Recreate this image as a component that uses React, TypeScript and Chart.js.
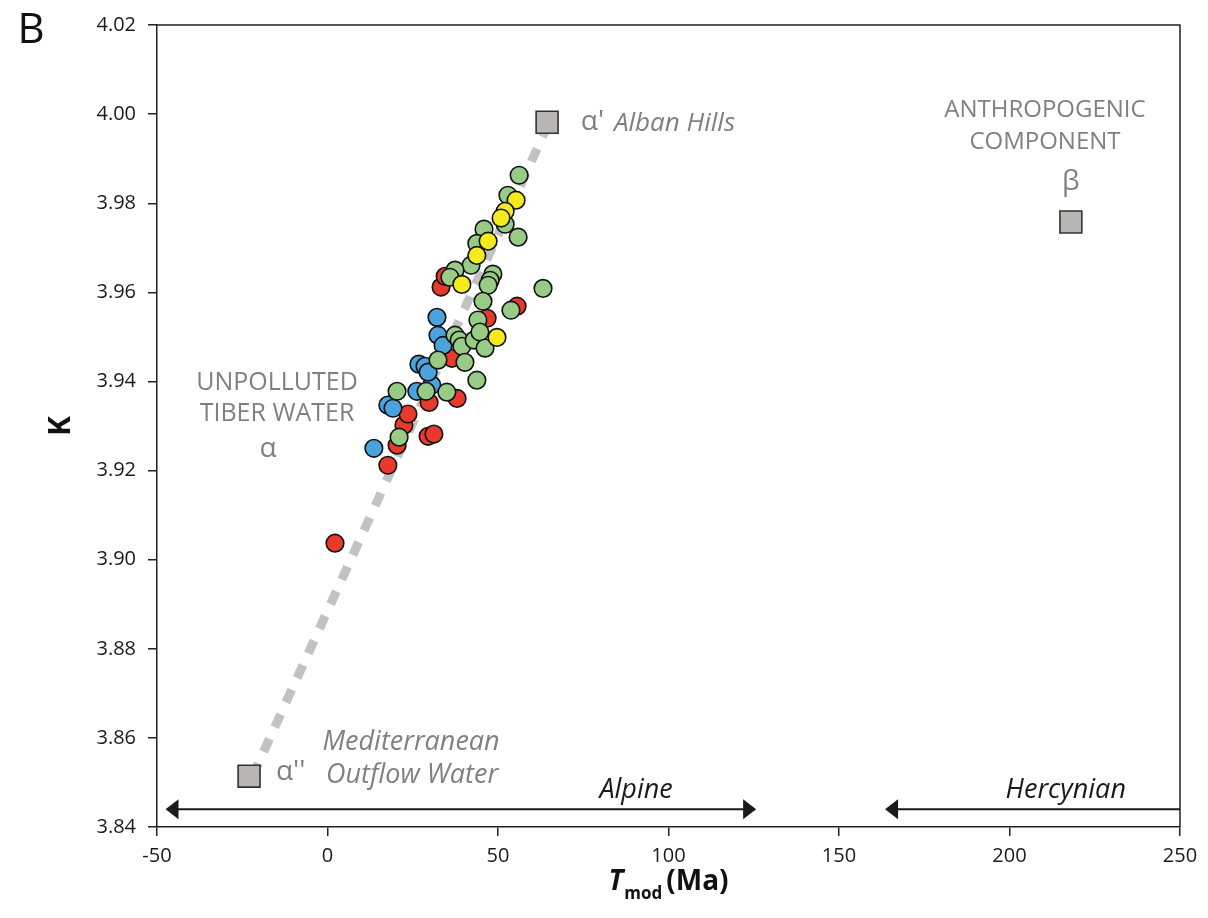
import React, { useEffect, useRef } from "react";
import { Chart, registerables } from "chart.js";

Chart.register(...registerables);

// ---------- data ----------
const xTicks = [-50, 0, 50, 100, 150, 200, 250];
const yTicks = [3.84, 3.86, 3.88, 3.9, 3.92, 3.94, 3.96, 3.98, 4.0, 4.02];

const redX = [2.2, 17.7, 20.4, 22.4, 23.6, 29.5, 31.2, 29.8, 38.0, 36.5, 46.8, 55.6, 33.3, 34.5];
const redY = [3.9037, 3.9212, 3.9257, 3.9302, 3.9327, 3.9277, 3.9282, 3.9353, 3.9362, 3.9452, 3.9542, 3.9569, 3.9612, 3.9636];

const blueX = [13.6, 17.7, 19.2, 26.2, 30.6, 26.8, 28.6, 29.5, 32.4, 33.9, 32.1];
const blueY = [3.925, 3.9347, 3.934, 3.9378, 3.9392, 3.9439, 3.9434, 3.9421, 3.9504, 3.9481, 3.9544];

const greenX = [56.2, 52.9, 52.1, 55.9, 45.9, 43.8, 42.1, 37.4, 35.9, 48.5, 47.7, 47.1, 63.2, 45.6, 53.8, 44.1, 37.4, 38.6, 39.4, 43.0, 44.7, 46.2, 32.4, 40.3, 43.8, 20.4, 28.9, 35.0, 21.0];
const greenY = [3.9863, 3.9818, 3.9753, 3.9724, 3.9742, 3.971, 3.9661, 3.965, 3.9634, 3.9641, 3.9627, 3.9616, 3.9609, 3.958, 3.956, 3.9538, 3.9504, 3.9493, 3.9479, 3.9493, 3.9511, 3.9475, 3.9448, 3.9443, 3.9403, 3.9378, 3.9378, 3.9376, 3.9275];

const yellowX = [55.3, 52.1, 50.9, 47.1, 43.8, 39.4, 49.7];
const yellowY = [3.9807, 3.9782, 3.9767, 3.9715, 3.9683, 3.9618, 3.9499];

// end-members: alpha'' (Mediterranean), alpha' (Alban Hills), beta (anthropogenic)
const endX = [-23.0, 64.4, 218.0];
const endY = [3.8514, 3.9982, 3.9758];

// mixing line alpha'' -> alpha'
const mixX = [-22.0, 65.0];
const mixY = [3.8514, 3.9982];

// orogeny age ranges (Ma)
const alpineRange = [-47.5, 125.7];
const hercynianRange = [163.5, 250];
const rangeLevelK = 3.844;

const FONT = "'Open Sans', 'Noto Sans', sans-serif";

const pts = (xs: number[], ys: number[]) => xs.map((x, i) => ({ x, y: ys[i] }));

const decorPlugin = {
  id: "decor",
  afterDraw(chart: any) {
    const { ctx, chartArea, scales } = chart;
    const xs = scales.x;
    const ys = scales.y;
    const X = (v: number) => xs.getPixelForValue(v);
    const Y = (v: number) => ys.getPixelForValue(v);
    ctx.save();

    // frame: top and right
    ctx.strokeStyle = "#222";
    ctx.lineWidth = 1.5;
    ctx.beginPath();
    ctx.moveTo(chartArea.left, chartArea.top);
    ctx.lineTo(chartArea.right, chartArea.top);
    ctx.lineTo(chartArea.right, chartArea.bottom);
    ctx.stroke();

    // arrows
    const ay = Y(rangeLevelK);
    const head = (tip: number, dir: number) => {
      ctx.beginPath();
      ctx.moveTo(tip, ay);
      ctx.lineTo(tip - dir * 13, ay - 10);
      ctx.lineTo(tip - dir * 13, ay + 10);
      ctx.closePath();
      ctx.fill();
    };
    ctx.fillStyle = "#1a1a1a";
    ctx.strokeStyle = "#1a1a1a";
    ctx.lineWidth = 2;
    ctx.beginPath();
    ctx.moveTo(X(alpineRange[0]) + 5, ay);
    ctx.lineTo(X(alpineRange[1]) - 5, ay);
    ctx.stroke();
    head(X(alpineRange[0]), -1);
    head(X(alpineRange[1]), 1);
    ctx.beginPath();
    ctx.moveTo(X(hercynianRange[0]) + 5, ay);
    ctx.lineTo(X(hercynianRange[1]), ay);
    ctx.stroke();
    head(X(hercynianRange[0]), -1);

    ctx.textBaseline = "middle";
    ctx.font = `italic 27px ${FONT}`;
    ctx.textAlign = "center";
    ctx.fillText("Alpine", X(90.5), Y(3.8483));
    ctx.fillText("Hercynian", X(216.5), Y(3.8483));

    // grey annotations
    ctx.fillStyle = "#808080";
    ctx.textAlign = "left";
    ctx.font = `28px ${FONT}`;
    ctx.fillText("α'", X(74.3), Y(3.9982));
    ctx.font = `italic 26px ${FONT}`;
    ctx.fillText("Alban Hills", X(84.0), Y(3.998));

    ctx.textAlign = "center";
    ctx.font = `24px ${FONT}`;
    ctx.fillText("ANTHROPOGENIC", X(210.4), Y(4.0009));
    ctx.fillText("COMPONENT", X(210.4), Y(3.9937));
    ctx.font = `28px ${FONT}`;
    ctx.fillText("β", X(218.0), Y(3.9847));

    ctx.font = `25px ${FONT}`;
    ctx.fillText("UNPOLLUTED", X(-14.8), Y(3.9398));
    ctx.fillText("TIBER WATER", X(-14.8), Y(3.9327));
    ctx.font = `28px ${FONT}`;
    ctx.fillText("α", X(-17.4), Y(3.9248));

    ctx.textAlign = "left";
    ctx.fillText("α''", X(-15.1), Y(3.8523));
    ctx.textAlign = "center";
    ctx.font = `italic 27px ${FONT}`;
    ctx.fillText("Mediterranean", X(24.5), Y(3.859));
    ctx.fillText("Outflow Water", X(24.8), Y(3.8516));

    // panel letter
    ctx.fillStyle = "#111";
    ctx.textAlign = "center";
    ctx.font = `42px ${FONT}`;
    ctx.fillText("B", 23, 23);

    // y title
    ctx.save();
    ctx.translate(53, (chartArea.top + chartArea.bottom) / 2);
    ctx.rotate(-Math.PI / 2);
    ctx.font = `bold 30px ${FONT}`;
    ctx.textAlign = "center";
    ctx.fillText("K", 0, 0);
    ctx.restore();

    // x title: T_mod (Ma)
    const big = `bold 28px ${FONT}`;
    const bigIt = `bold italic 28px ${FONT}`;
    const sub = `bold 17px ${FONT}`;
    ctx.font = bigIt;
    const wT = ctx.measureText("T").width;
    ctx.font = sub;
    const wS = ctx.measureText("mod").width;
    ctx.font = big;
    const wM = ctx.measureText("(Ma)").width;
    const gap = 4;
    const total = wT + 1 + wS + gap + wM;
    let sx = (chartArea.left + chartArea.right) / 2 - total / 2;
    const ty = 874;
    ctx.textAlign = "left";
    ctx.font = bigIt;
    ctx.fillText("T", sx, ty);
    sx += wT + 1;
    ctx.font = sub;
    ctx.fillText("mod", sx, ty + 12);
    sx += wS + gap;
    ctx.font = big;
    ctx.fillText("(Ma)", sx, ty);

    ctx.restore();
  },
};

export default function App() {
  const ref = useRef<HTMLCanvasElement>(null);
  useEffect(() => {
    const circle = (color: string, xs: number[], ys: number[], order: number) => ({
      type: "scatter" as const,
      data: pts(xs, ys),
      backgroundColor: color,
      borderColor: "#111",
      borderWidth: 1.6,
      pointRadius: 8.8,
      pointHoverRadius: 8.8,
      order,
    });
    const chart = new Chart(ref.current!, {
      type: "scatter",
      data: {
        datasets: [
          {
            type: "line" as const,
            data: pts(mixX, mixY),
            borderColor: "#c2c2c2",
            borderWidth: 9,
            borderDash: [14, 13],
            borderCapStyle: "butt",
            pointRadius: 0,
            fill: false,
            order: 10,
          } as any,
          circle("#e8392a", redX, redY, 5),
          circle("#4aa3df", blueX, blueY, 4),
          circle("#98cc86", greenX, greenY, 3),
          circle("#f5ea1e", yellowX, yellowY, 2),
          {
            type: "scatter" as const,
            data: pts(endX, endY),
            pointStyle: "rect",
            backgroundColor: "#bab5b5",
            borderColor: "#333",
            borderWidth: 1.6,
            pointRadius: 15.5,
            pointHoverRadius: 15.5,
            order: 1,
          } as any,
        ],
      },
      options: {
        animation: false,
        responsive: false,
        events: [],
        layout: { padding: { top: 17, right: 20, left: 0, bottom: 0 } },
        plugins: { legend: { display: false }, tooltip: { enabled: false } },
        scales: {
          x: {
            type: "linear",
            min: -50,
            max: 250,
            afterBuildTicks: (s: any) => {
              s.ticks = xTicks.map((v) => ({ value: v }));
            },
            afterFit: (s: any) => {
              s.height = 83;
              s.paddingLeft = 0;
              s.paddingRight = 0;
              s.paddingTop = 0;
              s.paddingBottom = 0;
            },
            grid: { display: true, drawOnChartArea: false, drawTicks: true, tickLength: 9, color: "#222", lineWidth: 1.5 },
            border: { display: true, color: "#222", width: 1.5 },
            ticks: {
              font: { family: FONT, size: 20 },
              color: "#1a1a1a",
              padding: 8,
              maxRotation: 0,
              autoSkip: false,
              callback: (v: any) => String(v),
            },
          },
          y: {
            type: "linear",
            min: 3.84,
            max: 4.02,
            afterBuildTicks: (s: any) => {
              s.ticks = yTicks.map((v) => ({ value: v }));
            },
            afterFit: (s: any) => {
              s.width = 149;
              s.paddingLeft = 0;
              s.paddingRight = 0;
              s.paddingTop = 0;
              s.paddingBottom = 0;
            },
            grid: { display: true, drawOnChartArea: false, drawTicks: true, tickLength: 9, color: "#222", lineWidth: 1.5 },
            border: { display: true, color: "#222", width: 1.5 },
            ticks: {
              font: { family: FONT, size: 20 },
              color: "#1a1a1a",
              padding: 12,
              autoSkip: false,
              callback: (v: any) => Number(v).toFixed(2),
            },
          },
        },
      } as any,
      plugins: [decorPlugin],
    });
    return () => chart.destroy();
  }, []);
  return (
    <div style={{ width: 1192, height: 902 }}>
      <canvas ref={ref} width={1192} height={902} style={{ display: "block" }} />
    </div>
  );
}
